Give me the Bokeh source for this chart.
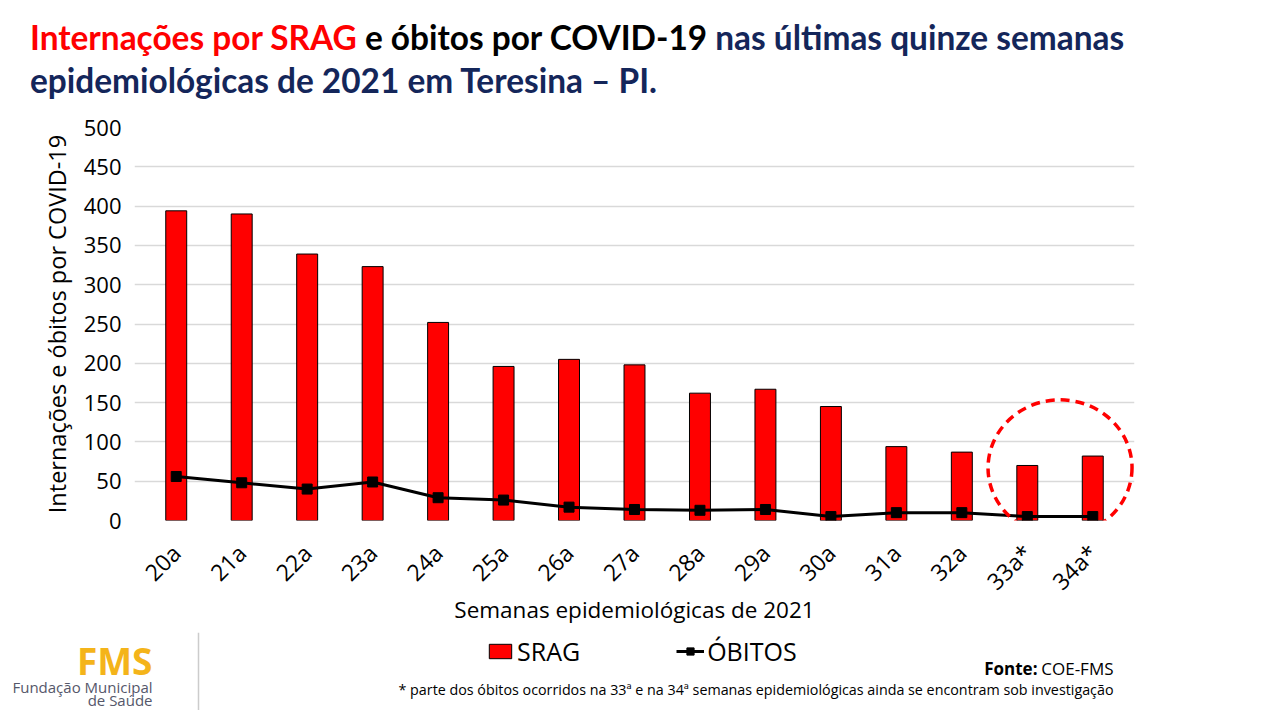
import math
from bokeh.plotting import figure
from bokeh.models import (Range1d, FactorRange, FixedTicker, Legend, LegendItem,
                          Label, Span, Div, ColumnDataSource)
from bokeh.layouts import column
from bokeh.embed import file_html
from bokeh.resources import INLINE

# ---- data ----
weeks = ["20a", "21a", "22a", "23a", "24a", "25a", "26a", "27a", "28a", "29a",
         "30a", "31a", "32a", "33a*", "34a*"]
srag = [394, 390, 339, 323, 252, 196, 205, 198, 162, 167, 145, 94, 87, 70, 82]
obitos = [56, 48, 40, 49, 29, 26, 17, 14, 13, 14, 5, 10, 10, 5, 5]
y_ticks = [0, 50, 100, 150, 200, 250, 300, 350, 400, 450, 500]

# highlighted (incomplete) weeks, circled in the chart
highlight_center_value = 67

FONT = "Open Sans"
NAVY = "#14265A"
RED = "#FF0000"
W = 1256

title_html = (
    '<div style="font-family: Lato, sans-serif; font-weight: 700; font-size: 33.4px; '
    'line-height: 43px; padding-left: 30px; padding-top: 16px; color: %s; white-space: nowrap;">'
    '<span style="color:%s">Internações por SRAG</span> '
    '<span style="color:#000000">e óbitos por COVID-19</span> '
    'nas últimas quinze semanas<br>epidemiológicas de 2021 em Teresina – PI.</div>'
) % (NAVY, RED)
title = Div(text=title_html, width=W, height=100, margin=(0, 0, 0, 0))

src = ColumnDataSource(dict(week=weeks, srag=srag, obitos=obitos))

CAT_W = 982 / len(weeks)       # pixel width of one category
PAD_PX = 9                     # small side padding so the circle is not cut
p = figure(x_range=FactorRange(*weeks, range_padding=PAD_PX / CAT_W,
                               range_padding_units="absolute"),
           y_range=Range1d(0, 500),
           frame_width=982 + 2 * PAD_PX, frame_height=393,
           min_border_left=143 - PAD_PX, min_border_right=131 - PAD_PX,
           min_border_top=27, min_border_bottom=112,
           output_backend="svg", toolbar_location=None,
           background_fill_color="white", border_fill_color="white",
           outline_line_color=None)
p.frame_align = False

bars = p.vbar(x="week", top="srag", width=0.32, source=src,
              fill_color=RED, line_color="black", line_width=1)
line = p.line(x="week", y="obitos", source=src, line_color="black", line_width=3)
pts = p.scatter(x="week", y="obitos", source=src, marker="square", size=10,
                fill_color="black", line_color="black")

# dashed circle around the last two weeks
p.ellipse(x=[len(weeks) - 1], y=[highlight_center_value], width=144, height=136,
          width_units="screen", height_units="screen",
          fill_alpha=0, line_color=RED, line_width=3.5, line_dash="9 6")

# axes & grid
p.yaxis.ticker = FixedTicker(ticks=y_ticks)
p.xgrid.grid_line_color = None
p.ygrid.grid_line_color = "#D9D9D9"
p.ygrid.grid_line_width = 1.3
for ax in (p.xaxis[0], p.yaxis[0]):
    ax.axis_line_color = None
    ax.major_tick_line_color = None
    ax.minor_tick_line_color = None
    ax.major_label_text_font = FONT
    ax.major_label_text_color = "#000000"
    ax.axis_label_text_font = FONT
    ax.axis_label_text_font_style = "normal"
    ax.axis_label_text_color = "#000000"

p.yaxis.major_label_text_font_size = "22px"
p.yaxis.major_label_standoff = 16 - PAD_PX
p.yaxis.axis_label = "Internações e óbitos por COVID-19"
p.yaxis.axis_label_text_font_size = "23.5px"
p.yaxis.axis_label_standoff = 8

p.xaxis.major_label_text_font_size = "23px"
p.xaxis.major_label_orientation = math.pi / 4
p.xaxis.major_label_standoff = 22
p.xaxis.axis_label = "Semanas epidemiológicas de 2021"
p.xaxis.axis_label_text_font_size = "22.5px"
p.xaxis.axis_label_standoff = -17

# ---- footer (legend, source, notes, logo); coordinates are page pixels ----
FH = 78
f = figure(x_range=Range1d(0, W), y_range=Range1d(632 + FH, 632),
           width=W, height=FH, min_border=0, output_backend="svg",
           toolbar_location=None, x_axis_location=None, y_axis_location=None,
           outline_line_color=None, background_fill_color="white",
           border_fill_color="white")
f.frame_align = False
f.xgrid.visible = False
f.ygrid.visible = False

# legend proxies (hidden renderers of the same series, styled like the chart)
proxy = ColumnDataSource(dict(i=list(range(len(weeks))), srag=srag, obitos=obitos))
lg_bar = f.vbar(x="i", top="srag", width=0.32, source=proxy, visible=False,
                fill_color=RED, line_color="black", line_width=1)
lg_line = f.line(x="i", y="obitos", source=proxy, visible=False,
                 line_color="black", line_width=3)
lg_pts = f.scatter(x="i", y="obitos", source=proxy, visible=False, marker="square",
                   size=10, fill_color="black", line_color="black")

legend = Legend(items=[LegendItem(label="SRAG", renderers=[lg_bar]),
                       LegendItem(label="ÓBITOS", renderers=[lg_line, lg_pts])],
                orientation="horizontal", location=(486, 632 + FH - 668),
                glyph_width=28, glyph_height=18, label_height=30,
                label_standoff=3, spacing=96, padding=0, margin=0,
                border_line_alpha=0, background_fill_alpha=0,
                inactive_fill_alpha=0,
                label_text_font=FONT, label_text_font_size="25px",
                label_text_color="#000000")
f.add_layout(legend, "center")


def lab(text, x, y, size, align="left", color="#000000", style="normal"):
    f.add_layout(Label(x=x, y=y, text=text,
                       text_font=FONT, text_font_size=size, text_align=align,
                       text_baseline="middle", text_color=color,
                       text_font_style=style))


lab("COE-FMS", 1113, 668, "17px", align="right")
lab("Fonte:", 1037, 668, "17px", align="right", style="bold")
lab("* parte dos óbitos ocorridos na 33ª e na 34ª semanas epidemiológicas ainda se encontram sob investigação",
    1113, 689, "14.3px", align="right")
lab("FMS", 152, 660, "37px", align="right", color="#F4B41A", style="bold")
lab("Fundação Municipal", 152, 686, "15px", align="right", color="#55576A")
lab("de Saúde", 152, 699, "15px", align="right", color="#55576A")
f.add_layout(Span(location=198, dimension="height", line_color="#CCCCCC", line_width=1.5))

layout = column(title, p, f, spacing=0)
open("out.html", "w").write(file_html(layout, INLINE))
